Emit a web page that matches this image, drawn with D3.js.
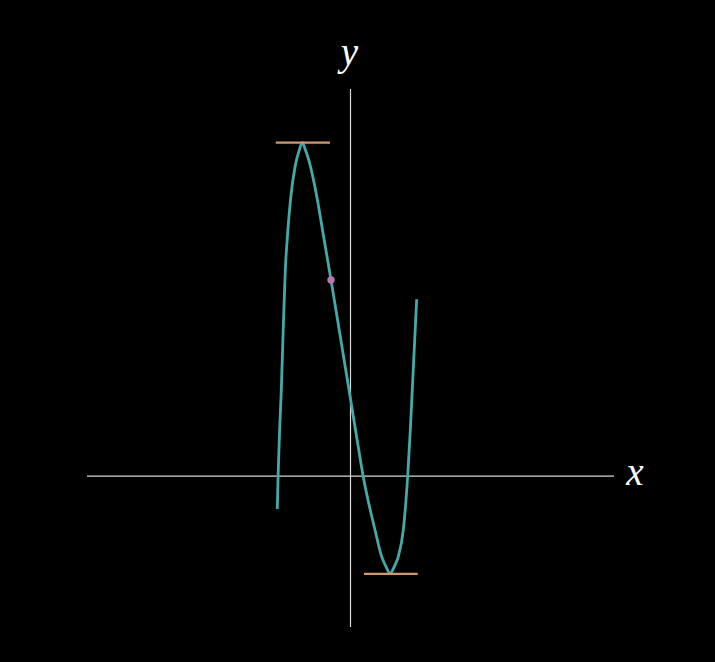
<!DOCTYPE html>
<html>
<head>
<meta charset="utf-8">
<script src="https://cdn.jsdelivr.net/npm/d3@7"></script>
<style>
  html, body { margin: 0; padding: 0; background: #000; }
  svg { display: block; }
</style>
</head>
<body>
<svg id="chart" width="715" height="662"></svg>
<script>
// Data (axis units: x in [-5,5], y in [-3,7.7])
const xDomain = [-5, 5];
const yDomain = [-3, 7.7];
const curveX = [-1.389, -1.374, -1.347, -1.313, -1.277, -1.237, -1.195, -1.139, -1.053, -0.977, -0.915,
                -0.858, -0.787, -0.645, -0.512, -0.370, -0.180, -0.009, 0.123, 0.243,
                0.465, 0.592, 0.674, 0.750, 0.831, 0.907, 1.002, 1.085, 1.135, 1.195, 1.256];
const curveY = [-0.652, 0.004, 0.859, 1.714, 2.908, 4.101, 4.797, 5.493, 6.150, 6.468, 6.633,
                6.498, 6.269, 5.593, 4.777, 3.902, 2.689, 1.595, 0.740, -0.016,
                -1.070, -1.601, -1.800, -1.935, -1.800, -1.601, -1.070, 0.003, 0.919, 2.212, 3.518];
const tangentX0 = [-1.418, 0.256];
const tangentX1 = [-0.389, 1.275];
const tangentY = [6.633, -1.945];
const pointX = [-0.370];
const pointY = [3.902];
const axisLabels = ["x", "y"];

const svg = d3.select("#chart");
const x = d3.scaleLinear().domain(xDomain).range([87, 614]);
const y = d3.scaleLinear().domain(yDomain).range([627, 89]);

// axes
svg.append("line")
  .attr("x1", x(xDomain[0])).attr("x2", x(xDomain[1]))
  .attr("y1", y(0)).attr("y2", y(0))
  .attr("stroke", "#d8d8d8").attr("stroke-width", 1.2);
svg.append("line")
  .attr("x1", x(0)).attr("x2", x(0))
  .attr("y1", y(yDomain[0])).attr("y2", y(yDomain[1]))
  .attr("stroke", "#d8d8d8").attr("stroke-width", 1.2);

svg.append("text")
  .attr("x", x(xDomain[1]) + 21).attr("y", y(0) + 9)
  .attr("text-anchor", "middle")
  .attr("font-family", "'Liberation Serif', 'DejaVu Serif', serif")
  .attr("font-style", "italic")
  .attr("font-size", 39)
  .attr("fill", "#ffffff")
  .text(axisLabels[0]);
svg.append("text")
  .attr("x", x(0) - 1).attr("y", y(yDomain[1]) - 24)
  .attr("text-anchor", "middle")
  .attr("font-family", "'Liberation Serif', 'DejaVu Serif', serif")
  .attr("font-style", "italic")
  .attr("font-size", 39)
  .attr("fill", "#ffffff")
  .text(axisLabels[1]);

// curve
const pts = curveX.map((d, i) => [d, curveY[i]]);
const line = d3.line()
  .x(d => x(d[0])).y(d => y(d[1]))
  .curve(d3.curveMonotoneX);
svg.append("path")
  .attr("d", line(pts))
  .attr("fill", "none")
  .attr("stroke", "#45aaa7")
  .attr("stroke-width", 2.8)
  .attr("stroke-linejoin", "round");

// tangent lines
tangentY.forEach((ty, i) => {
  svg.append("line")
    .attr("x1", x(tangentX0[i])).attr("x2", x(tangentX1[i]))
    .attr("y1", y(ty)).attr("y2", y(ty))
    .attr("stroke", "#d0976a").attr("stroke-width", 2.2);
});

// point
pointX.forEach((px, i) => {
  svg.append("circle")
    .attr("cx", x(px)).attr("cy", y(pointY[i]))
    .attr("r", 3.7)
    .attr("fill", "#bb72b6");
});
</script>
</body>
</html>
